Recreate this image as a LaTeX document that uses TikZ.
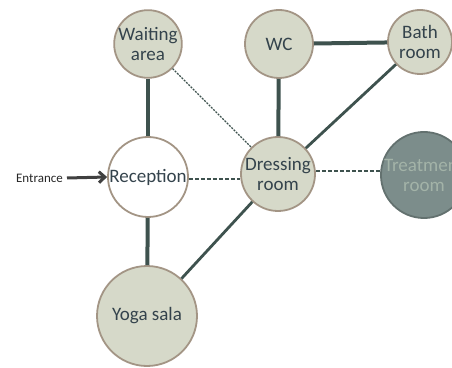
\documentclass[tikz,border=0pt]{standalone}
\usepackage{fontspec}
\setmainfont{Carlito}
\usetikzlibrary{arrows.meta}
\definecolor{fillc}{HTML}{D6D9C9}
\definecolor{rimc}{HTML}{A39585}
\definecolor{edgec}{HTML}{3E524E}
\definecolor{txtc}{HTML}{34434C}
\definecolor{treatc}{HTML}{7C8D8B}
\definecolor{treattxt}{HTML}{A3B3A8}
\tikzset{
  x=1pt,y=1pt,
  room/.style={circle, draw=rimc, line width=1.8pt, fill=fillc, text=txtc, align=center, inner sep=0pt, font=\fontsize{19}{20}\selectfont},
  solidthick/.style={draw=edgec, line width=4pt},
  solidmid/.style={draw=edgec, line width=2.8pt},
  dashedc/.style={draw=edgec, line width=1.5pt, dash pattern=on 4pt off 2pt},
  dottedc/.style={draw=edgec, line width=1.3pt, dash pattern=on 2pt off 1.2pt},
}
\begin{document}
\begin{tikzpicture}
\useasboundingbox (0,0) rectangle (452,367);
\begin{scope}
\clip (0,0) rectangle (452,367);
\node[room, minimum size=66pt] (W) at (148,323) {Waiting\\area};
\node[room, minimum size=68pt] (WC) at (279,323) {WC};
\node[room, minimum size=64pt] (B) at (420,325) {Bath\\room};
\node[room, minimum size=80pt, fill=white] (R) at (148,190) {Reception};
\node[room, minimum size=74pt] (D) at (278,193) {Dressing\\room};
\node[room, minimum size=82pt, fill=treatc, draw=treatc!80!black, text=treattxt] (T) at (424,192) {Treatment\\room};
\node[room, minimum size=100pt] (Y) at (147,51) {Yoga sala};
\node[font=\fontsize{13}{13}\selectfont, text=black!85, anchor=east, inner sep=0pt] (E) at (63,189) {Entrance};
\end{scope}
\begin{scope}
\clip (0,0) rectangle (452,367);
\draw[solidthick] (W) -- (R);
\draw[dottedc] (W) -- (D);
\draw[solidthick] (WC) -- (D);
\draw[solidthick] (WC) -- (B);
\draw[solidmid] (B) -- (D);
\draw[dashedc] (R.east |- 0,188) -- (D.west |- 0,188);
\draw[dashedc] (D.east |- 0,196) -- (T.west |- 0,196);
\draw[solidthick] (R) -- (Y);
\draw[solidmid] (D) -- (Y);
\draw[draw=black!75, line width=3pt, -{Straight Barb[length=6pt,width=11pt]}] (E.east) ++(4,0) -- (R.west);
\end{scope}
\end{tikzpicture}
\end{document}
